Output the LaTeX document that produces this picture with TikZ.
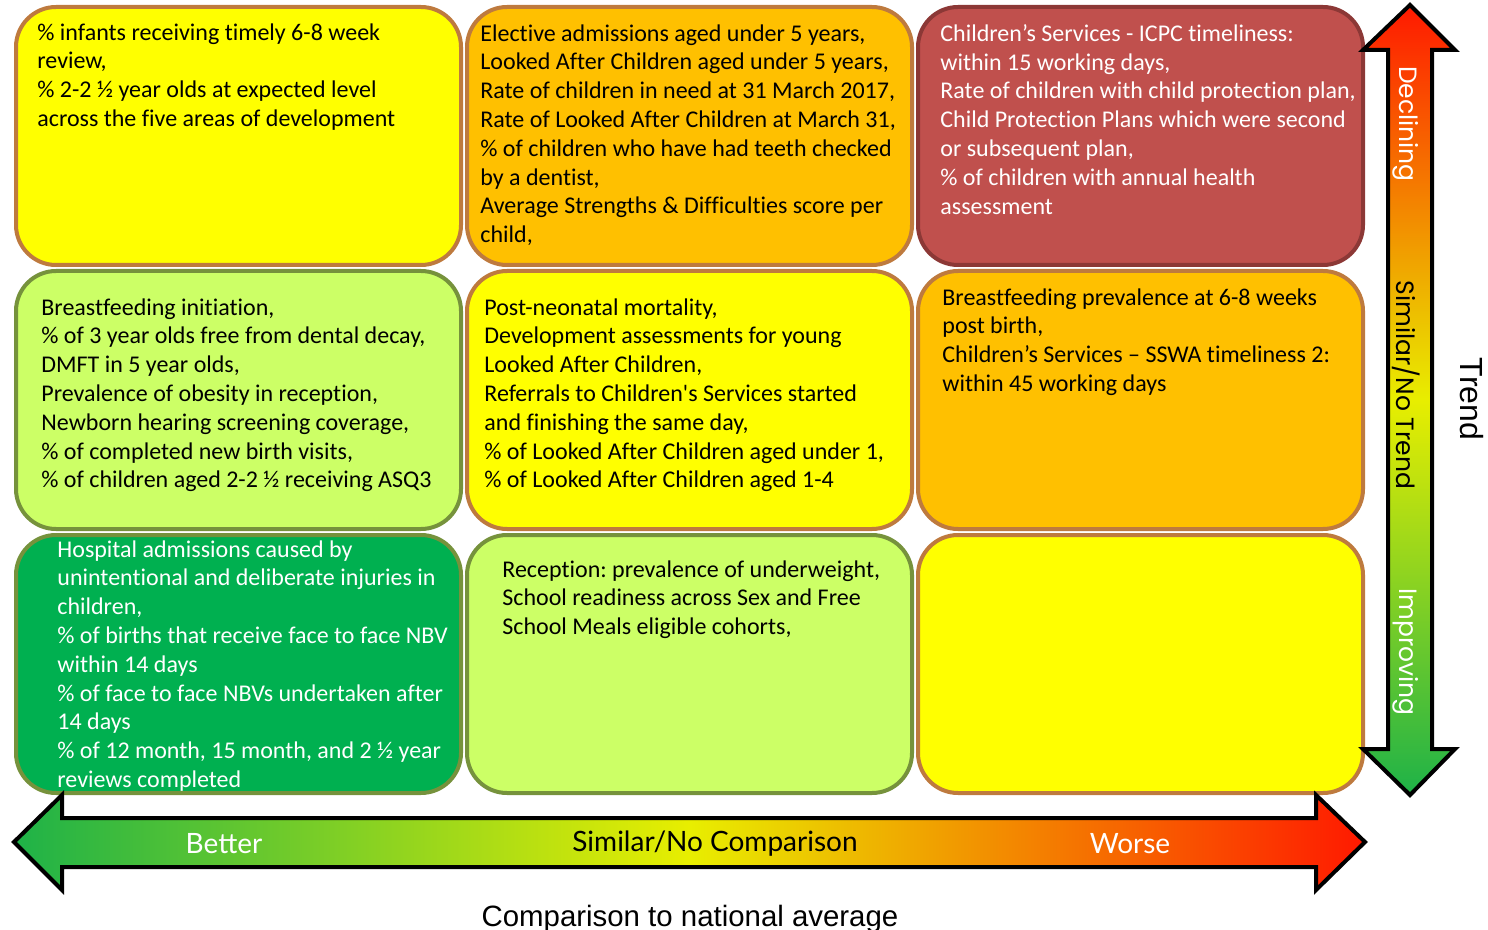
\documentclass[tikz,border=0pt]{standalone}
\usepackage{fontspec}
\setmainfont[Ligatures={TeX,NoCommon}]{Carlito}
\newfontfamily\arrowfont{Lato}
\newfontfamily\trendfont{Poppins}
\newfontfamily\axisfont{Liberation Sans}
\usetikzlibrary{positioning,calc}
\definecolor{cellyellow}{RGB}{255,255,0}
\definecolor{cellamber}{RGB}{255,192,0}
\definecolor{cellred}{RGB}{192,80,77}
\definecolor{celllime}{RGB}{204,255,102}
\definecolor{cellgreen}{RGB}{0,176,80}
\definecolor{edgebrown}{RGB}{190,122,62}
\definecolor{edgeolive}{RGB}{118,146,60}
\definecolor{edgered}{RGB}{140,56,54}
\definecolor{arrowgreen}{RGB}{30,178,72}
\definecolor{arrowyellow}{RGB}{232,238,0}
\definecolor{arrowred}{RGB}{255,25,0}
\frenchspacing

\begin{document}
\begin{tikzpicture}[
  x=0.5pt, y=-0.5pt,
  node distance=1pt,
  cell/.style={rectangle, rounded corners=20pt, line width=2pt, minimum width=222.5pt,
               minimum height=129pt, inner sep=0pt},
  celltext/.style={anchor=north west, inner sep=0pt, align=left, font=\fontsize{12}{14.4}\selectfont},
  bigarrow/.style={draw=black, line width=2pt, line join=miter},
  arrowlabel/.style={font=\arrowfont\fontsize{14}{16}\selectfont},
  trendlabel/.style={rotate=-90, font=\trendfont\fontsize{12.5}{14}\selectfont}
]
  \useasboundingbox (0,0) rectangle (1488,930);

  \node[cell, draw=edgebrown, fill=cellyellow] (A) at (238.5,136) {};
  \node[cell, draw=edgebrown, fill=cellamber, right=of A] (B) {};
  \node[cell, draw=edgered, fill=cellred, right=of B] (C) {};
  \node[cell, draw=edgeolive, fill=celllime, below=of A] (D) {};
  \node[cell, draw=edgebrown, fill=cellyellow, right=of D] (E) {};
  \node[cell, draw=edgebrown, fill=cellamber, right=of E] (F) {};
  \node[cell, draw=edgeolive, fill=cellgreen, below=of D] (G) {};
  \node[cell, draw=edgeolive, fill=celllime, right=of G] (H) {};
  \node[cell, draw=edgebrown, fill=cellyellow, right=of H] (I) {};

  \node[celltext] (a) at ($(A.north west)+(23,18)$) {\% infants receiving timely 6-8 week\\review,\\\% 2-2 ½ year olds at expected level\\across the five areas of development};
  \node[celltext] (b) at ($(B.north west)+(15,19)$) {Elective admissions aged under 5 years,\\Looked After Children aged under 5 years,\\Rate of children in need at 31 March 2017,\\Rate of Looked After Children at March 31,\\\% of children who have had teeth checked\\by a dentist,\\Average Strengths \& Difficulties score per\\child,};
  \node[celltext, text=white] (c) at ($(C.north west)+(24,19)$) {Children’s Services - ICPC timeliness:\\within 15 working days,\\Rate of children with child protection plan,\\Child Protection Plans which were second\\or subsequent plan,\\\% of children with annual health\\assessment};
  \node[celltext] (d) at ($(D.north west)+(27,29)$) {Breastfeeding initiation,\\\% of 3 year olds free from dental decay,\\DMFT in 5 year olds,\\Prevalence of obesity in reception,\\Newborn hearing screening coverage,\\\% of completed new birth visits,\\\% of children aged 2-2 ½ receiving ASQ3};
  \node[celltext] (e) at ($(E.north west)+(19,29)$) {Post-neonatal mortality,\\Development assessments for young\\Looked After Children,\\Referrals to Children\textquotesingle s Services started\\and finishing the same day,\\\% of Looked After Children aged under 1,\\\% of Looked After Children aged 1-4};
  \node[celltext] (f) at ($(F.north west)+(26,19)$) {Breastfeeding prevalence at 6-8 weeks\\post birth,\\Children’s Services – SSWA timeliness 2:\\within 45 working days};
  \node[celltext, text=white] (g) at ($(G.north west)+(43,7)$) {Hospital admissions caused by\\unintentional and deliberate injuries in\\children,\\\% of births that receive face to face NBV\\within 14 days\\\% of face to face NBVs undertaken after\\14 days\\\% of 12 month, 15 month, and 2 ½ year\\reviews completed};
  \node[celltext] (h) at ($(H.north west)+(37,27)$) {Reception: prevalence of underweight,\\School readiness across Sex and Free\\School Meals eligible cohorts,};

  \path[bigarrow, left color=arrowgreen, right color=arrowred, middle color=arrowyellow]
    (14,842) -- (62,795) -- (62,818) -- (1316,818) -- (1316,795) -- (1365,842)
    -- (1316,890) -- (1316,867) -- (62,867) -- (62,890) -- cycle;
  \path[bigarrow, top color=arrowred, bottom color=arrowgreen, middle color=arrowyellow]
    (1410,5) -- (1455,50) -- (1432,50) -- (1432,749) -- (1455,749) -- (1410,795)
    -- (1363,749) -- (1388,749) -- (1388,50) -- (1363,50) -- cycle;

  \node[arrowlabel, text=white] (better) at (224,844) {Better};
  \node[arrowlabel] (similar) at (715,844) {Similar/No Comparison};
  \node[arrowlabel, text=white] (worse) at (1130,844) {Worse};
  \node[trendlabel, text=white] (declining) at (1406,124) {Declining};
  \node[trendlabel] (notrend) at (1406,385) {Similar/No Trend};
  \node[trendlabel, text=white] (improving) at (1406,652) {Improving};
  \node[rotate=-90, font=\axisfont\fontsize{16}{18}\selectfont] (trend) at (1472,399) {Trend};
  \node[anchor=base, font=\axisfont\fontsize{14.7}{17}\selectfont] (axis) at (690,926) {Comparison to national average};
\end{tikzpicture}
\end{document}
